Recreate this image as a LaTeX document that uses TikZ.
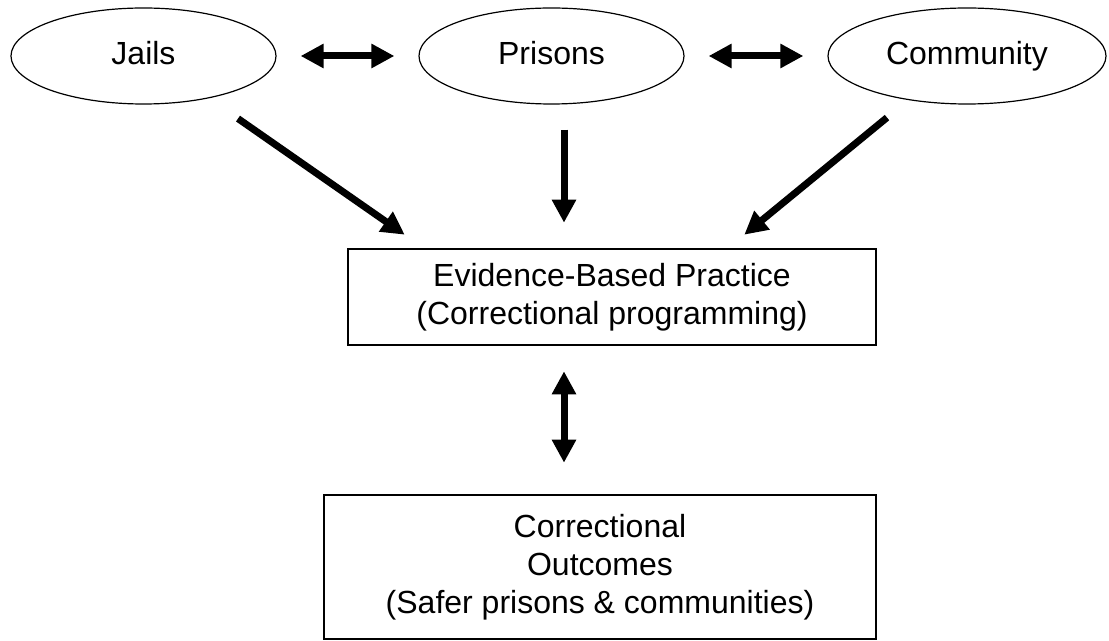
\documentclass[tikz,border=0pt]{standalone}
\usepackage{fontspec}
\setmainfont{Liberation Sans}
\usetikzlibrary{arrows.meta}
\usetikzlibrary{shapes.geometric}

\begin{document}
\begin{tikzpicture}[
        > = {Triangle[length=11.5pt, width=11.5pt]}, % arrow head style
        font = \fontsize{16}{19}\selectfont,
        node distance = 204pt % distance between the settings
    ]

    \tikzstyle{site}=[
        ellipse,
        draw = black,
        line width = 0.6pt,
        inner sep = 0pt,
        text height = 11.5pt,
        text depth = 3.4pt,
        minimum width = 132.5pt,
        minimum height = 48pt
    ]
    \tikzstyle{block}=[
        rectangle,
        draw = black,
        line width = 1.3pt,
        align = center,
        inner sep = 0pt
    ]
    \tikzstyle{link}=[line width = 3.5pt]

    \useasboundingbox (0,0) rectangle (554.5pt,-320.5pt);

    \node[site] (J) at (71.75pt,-28pt) {Jails};
    \node[site] (P) [right of=J] {Prisons};
    \node[site, minimum width=139pt] (C) [right of=P, node distance=207.75pt] {Community};

    \node[block, minimum width=264pt, minimum height=48pt] (EBP) at (306pt,-148.5pt)
        {Evidence-Based Practice\\(Correctional programming)};
    \node[block, minimum width=276pt, minimum height=72pt] (CO) at (300pt,-283.5pt)
        {Correctional\\Outcomes\\(Safer prisons \& communities)};

    % settings linked to each other
    \draw[link, <->, shorten <=12pt, shorten >=12pt] (J) -- (P);
    \draw[link, <->, shorten <=12pt, shorten >=12pt] (P) -- (C);

    % settings feeding the practice
    \draw[link, ->] ([xshift=47.25pt, yshift=-7pt]J.south) -- ([xshift=29pt, yshift=6.5pt]EBP.north west);
    \draw[link, ->] ([xshift=6.25pt, yshift=-12.5pt]P.south) -- ([xshift=-24pt, yshift=12.5pt]EBP.north);
    \draw[link, ->] ([xshift=-40pt, yshift=-6.5pt]C.south) -- ([xshift=-66.5pt, yshift=6.5pt]EBP.north east);

    \draw[link, <->] ([xshift=-24pt, yshift=-12.5pt]EBP.south) -- ([xshift=-18pt, yshift=15.5pt]CO.north);

\end{tikzpicture}
\end{document}
